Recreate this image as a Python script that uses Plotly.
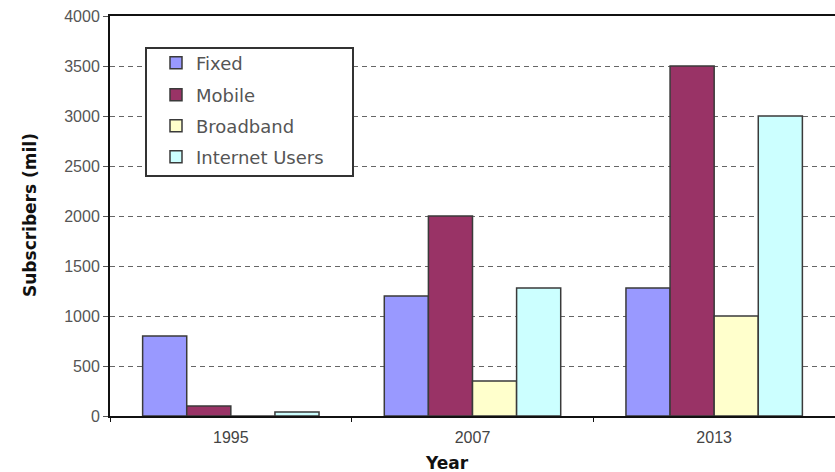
import plotly.graph_objects as go

years = ["1995", "2007", "2013"]
fixed = [800, 1200, 1280]
mobile = [100, 2000, 3500]
broadband = [0, 350, 1000]
internet = [40, 1280, 3000]

series = [
    ("Fixed", fixed, "#9999FF"),
    ("Mobile", mobile, "#993366"),
    ("Broadband", broadband, "#FFFFCC"),
    ("Internet Users", internet, "#CCFFFF"),
]

W, H = 835, 472
L, R, T, B = 110, 0, 16, 56
pw, ph = W - L - R, H - T - B

def px_x(x):
    return (x - L) / pw

def px_y(y):
    return (H - B - y) / ph

legend_ids = ["legend", "legend2", "legend3", "legend4"]
legend_rows = [63, 95, 126, 157]

fig = go.Figure()
for i, (name, vals, col) in enumerate(series):
    fig.add_trace(go.Bar(
        x=years, y=vals, name=name, legend=legend_ids[i],
        marker=dict(color=col, line=dict(color="#3a3a3a", width=1.5)),
    ))

fig.add_shape(type="rect", xref="paper", yref="paper",
              x0=px_x(146), x1=px_x(353), y0=px_y(176), y1=px_y(48),
              line=dict(color="#333333", width=2), fillcolor="white", layer="above")

fig.add_annotation(text="<b>Year</b>", xref="paper", yref="paper",
                   x=px_x(447), y=px_y(463), xanchor="center", yanchor="middle",
                   showarrow=False,
                   font=dict(family="DejaVu Sans, sans-serif", size=17, color="#111111"))
fig.add_annotation(text="<b>Subscribers (mil)</b>", xref="paper", yref="paper",
                   x=px_x(30), y=px_y(215), xanchor="center", yanchor="middle",
                   showarrow=False, textangle=-90,
                   font=dict(family="DejaVu Sans, sans-serif", size=17, color="#111111"))

leg_common = dict(xanchor="left", yanchor="middle", bgcolor="rgba(0,0,0,0)", borderwidth=0,
                  font=dict(family="DejaVu Sans, sans-serif", size=18, color="#555555"))
legend_layout = {lid: dict(x=px_x(156), y=px_y(row), **leg_common)
                 for lid, row in zip(legend_ids, legend_rows)}

fig.update_layout(
    width=W, height=H,
    margin=dict(l=L, r=R, t=T, b=B),
    paper_bgcolor="white", plot_bgcolor="white",
    barmode="group", bargap=0.27, bargroupgap=0,
    font=dict(family="Arial, Liberation Sans, sans-serif", color="#444444"),
    showlegend=True,
    **legend_layout,
    xaxis=dict(
        showline=True, linecolor="#111111", linewidth=2, mirror=True,
        ticks="outside", tickson="boundaries", ticklen=4, tickcolor="#111111",
        tickfont=dict(size=16, color="#444444"), ticklabelstandoff=6,
        showgrid=False,
    ),
    yaxis=dict(
        range=[0, 4000], dtick=500, showline=True, linecolor="#111111", linewidth=2,
        ticks="outside", ticklen=5, tickcolor="#555555",
        tickfont=dict(size=16, color="#555555"),
        showgrid=True, gridcolor="#666666", gridwidth=1, griddash="5px,4px",
        zeroline=False,
    ),
)

fig.write_html("out.html")
